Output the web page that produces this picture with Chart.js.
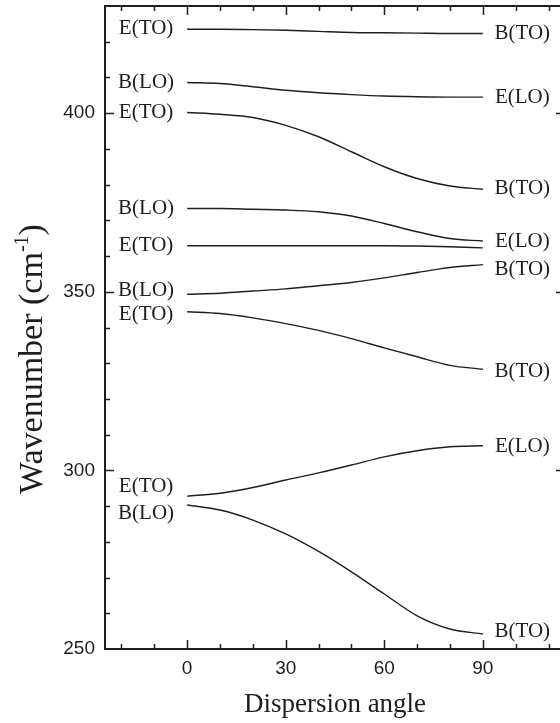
<!DOCTYPE html>
<html>
<head>
<meta charset="utf-8">
<script src="https://cdn.jsdelivr.net/npm/chart.js@4.4.0/dist/chart.umd.min.js"></script>
<style>
  html, body { margin: 0; padding: 0; background: #fff; }
  #wrap { width: 560px; height: 723px; overflow: hidden; position: relative; }
  #myChart { position: absolute; left: 0; top: 0; }
</style>
</head>
<body>
<div id="wrap"><canvas id="myChart" width="580" height="723"></canvas></div>
<script>
// dispersion angle (deg)
const angles = [0, 10, 20, 30, 40, 50, 60, 70, 80, 90];

// wavenumber of each mode branch, cm-1 (top to bottom)
const mode1 = [423.5, 423.5, 423.4, 423.2, 422.9, 422.6, 422.5, 422.4, 422.3, 422.3];
const mode2 = [408.6, 408.3, 407.4, 406.4, 405.7, 405.2, 404.8, 404.6, 404.5, 404.5];
const mode3 = [400.2, 399.7, 398.8, 396.6, 393.4, 389.2, 385.0, 381.7, 379.6, 378.7];
const mode4 = [373.3, 373.3, 373.1, 372.9, 372.4, 371.2, 369.1, 366.8, 364.9, 364.2];
const mode5 = [362.9, 362.9, 362.9, 362.9, 362.9, 362.9, 362.9, 362.8, 362.6, 362.3];
const mode6 = [349.3, 349.6, 350.2, 350.8, 351.7, 352.6, 353.9, 355.4, 356.8, 357.6];
const mode7 = [344.4, 343.9, 342.7, 341.1, 339.2, 336.9, 334.3, 331.8, 329.4, 328.3];
const mode8 = [292.8, 293.6, 295.2, 297.3, 299.3, 301.5, 303.8, 305.5, 306.6, 306.9];
const mode9 = [290.3, 288.9, 286.1, 282.2, 277.3, 271.6, 265.4, 259.3, 255.6, 254.2];

// mode labels at 0 deg (left) and 90 deg (right)
const leftLabels = ['E(TO)', 'B(LO)', 'E(TO)', 'B(LO)', 'E(TO)', 'B(LO)', 'E(TO)', 'E(TO)', 'B(LO)'];
const leftLabelY = [423.6, 408.7, 400.2, 373.4, 363.0, 350.4, 343.7, 295.6, 287.8];
const rightLabels = ['B(TO)', 'E(LO)', 'B(TO)', 'E(LO)', 'B(TO)', 'B(TO)', 'E(LO)', 'B(TO)'];
const rightLabelY = [422.4, 404.5, 379.0, 364.2, 356.3, 327.8, 306.8, 254.8];
const leftLabelX = -12.5;
const rightLabelX = 102;

// axis ticks
const xTicks = [0, 30, 60, 90];
const yTicks = [250, 300, 350, 400];

const modes = [mode1, mode2, mode3, mode4, mode5, mode6, mode7, mode8, mode9];
const ink = '#1e1e1e';

const datasets = modes.map(m => ({
	data: angles.map((a, i) => ({x: a, y: m[i]})),
	borderColor: ink,
	borderWidth: 1.4,
	pointRadius: 0,
	fill: false,
	cubicInterpolationMode: 'monotone'
}));

const framePlugin = {
	id: 'frame',
	afterDraw(chart) {
		const ctx = chart.ctx;
		const a = chart.chartArea;
		const x = chart.scales.x;
		const y = chart.scales.y;
		ctx.save();
		ctx.strokeStyle = ink;
		ctx.lineWidth = 2;
		ctx.strokeRect(a.left, a.top, a.right - a.left, a.bottom - a.top);

		// inward ticks on all four sides
		ctx.lineWidth = 1.5;
		ctx.beginPath();
		for (let v = -20; v <= 110; v += 10) {
			const px = Math.round(x.getPixelForValue(v)) + 0.5;
			const len = xTicks.includes(v) ? 9 : 5;
			ctx.moveTo(px, a.bottom); ctx.lineTo(px, a.bottom - len);
			ctx.moveTo(px, a.top); ctx.lineTo(px, a.top + len);
		}
		for (let v = 260; v <= 420; v += 10) {
			const py = Math.round(y.getPixelForValue(v)) + 0.5;
			const len = yTicks.includes(v) ? 9 : 5;
			ctx.moveTo(a.left, py); ctx.lineTo(a.left + len, py);
			ctx.moveTo(a.right, py); ctx.lineTo(a.right - len, py);
		}
		ctx.stroke();

		// mode labels
		ctx.fillStyle = ink;
		ctx.font = '21px "Liberation Serif", "Times New Roman", serif';
		ctx.textAlign = 'center';
		ctx.textBaseline = 'middle';
		leftLabels.forEach((t, i) => {
			ctx.fillText(t, x.getPixelForValue(leftLabelX), y.getPixelForValue(leftLabelY[i]));
		});
		rightLabels.forEach((t, i) => {
			ctx.fillText(t, x.getPixelForValue(rightLabelX), y.getPixelForValue(rightLabelY[i]));
		});

		// y title with superscript
		const main = 'Wavenumber (cm';
		const sup = '-1';
		const tail = ')';
		const bigFont = '34px "Liberation Serif", "Times New Roman", serif';
		const supFont = '20px "Liberation Serif", "Times New Roman", serif';
		ctx.font = bigFont;
		const w1 = ctx.measureText(main).width;
		const w3 = ctx.measureText(tail).width;
		ctx.font = supFont;
		const w2 = ctx.measureText(sup).width;
		const total = w1 + w2 + w3;
		ctx.translate(31, 359);
		ctx.rotate(-Math.PI / 2);
		ctx.textAlign = 'left';
		ctx.textBaseline = 'alphabetic';
		let cx = -total / 2;
		ctx.font = bigFont;
		ctx.fillText(main, cx, 11);
		cx += w1;
		ctx.font = supFont;
		ctx.fillText(sup, cx, -3);
		cx += w2;
		ctx.font = bigFont;
		ctx.fillText(tail, cx, 11);
		ctx.restore();
	}
};

const config = {
	type: 'line',
	data: { datasets: datasets },
	options: {
		responsive: false,
		animation: false,
		layout: { autoPadding: false, padding: { top: 6, right: 15, left: 0, bottom: 0 } },
		plugins: { legend: { display: false }, tooltip: { enabled: false } },
		scales: {
			x: {
				type: 'linear',
				min: -25,
				max: 115,
				afterBuildTicks: s => { s.ticks = xTicks.map(v => ({value: v})); },
				afterFit: s => { s.height = 74; s.paddingLeft = 0; s.paddingRight = 0; },
				grid: { display: false, drawTicks: false },
				border: { display: false },
				ticks: {
					color: ink,
					padding: 8,
					maxRotation: 0,
					font: { family: '"Liberation Sans", Arial, sans-serif', size: 19 }
				},
				title: {
					display: true,
					text: 'Dispersion angle',
					color: ink,
					padding: { top: 0, bottom: 2 },
					font: { family: '"Liberation Serif", "Times New Roman", serif', size: 27 }
				}
			},
			y: {
				type: 'linear',
				min: 250,
				max: 430,
				afterBuildTicks: s => { s.ticks = yTicks.map(v => ({value: v})); },
				afterFit: s => { s.width = 105; s.paddingTop = 0; s.paddingBottom = 0; },
				grid: { display: false, drawTicks: false },
				border: { display: false },
				ticks: {
					color: ink,
					padding: 10,
					font: { family: '"Liberation Sans", Arial, sans-serif', size: 19 }
				}
			}
		}
	},
	plugins: [framePlugin]
};

let ctx = document.getElementById("myChart").getContext("2d");
new Chart(ctx, config);
</script>
</body>
</html>
